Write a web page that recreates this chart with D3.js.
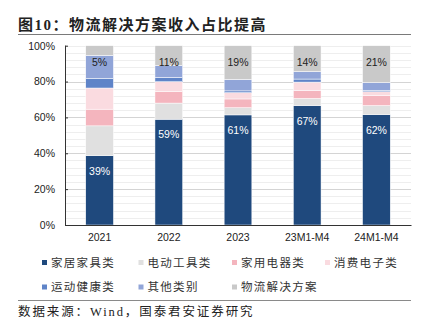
<!DOCTYPE html>
<html><head><meta charset="utf-8">
<script src="https://cdn.jsdelivr.net/npm/d3@7"></script>
<style>
html,body{margin:0;padding:0;background:#fff;}
svg{display:block;}
</style></head>
<body>
<svg id="c" width="426" height="329"></svg>
<script>
const categories = ["2021","2022","2023","23M1-M4","24M1-M4"];
const furniture   = [38.7, 59.0, 61.4, 66.6, 61.6];
const powerTools  = [16.6,  9.0,  4.0,  4.0,  5.0];
const appliances  = [ 9.3,  6.5,  4.9,  4.4,  5.5];
const electronics = [11.8,  5.4,  3.5,  4.7,  2.2];
const sports      = [ 5.3,  2.4,  1.0,  1.7,  0.7];
const others      = [12.9,  6.7,  6.4,  4.2,  4.5];
const logistics   = [ 5.4, 11.0, 18.8, 14.4, 20.5];
const seriesNames = ["家居家具类","电动工具类","家用电器类","消费电子类","运动健康类","其他类别","物流解决方案"];
const seriesValues = [furniture, powerTools, appliances, electronics, sports, others, logistics];
const seriesColors = ["#1f497d","#e0e0e0","#f4b5be","#fadbe0","#5f84c8","#91a5d8","#c9c9c9"];
const yTicks = [0,20,40,60,80,100];
const minorTicks = d3.range(0,101,4);

const svg = d3.select("#c");
const x = d3.scaleBand().domain(categories).range([65,411]).paddingInner(0.6).paddingOuter(0.3);
const y = d3.scaleLinear().domain([0,100]).range([225,45.7]);

// title
svg.append("text").attr("x",18).attr("y",30)
  .attr("font-family","'Liberation Serif','Noto Sans CJK SC',serif")
  .attr("font-weight","bold").attr("font-size",15).attr("letter-spacing",1.5)
  .attr("fill","#222").text("图10：物流解决方案收入占比提高");
svg.append("line").attr("x1",18).attr("x2",411).attr("y1",34.5).attr("y2",34.5)
  .attr("stroke","#7a7a7a").attr("stroke-width",1);

// grid
svg.append("g").selectAll("line").data(minorTicks).join("line")
  .attr("x1",65).attr("x2",411)
  .attr("y1",d=>Math.round(y(d))+0.5).attr("y2",d=>Math.round(y(d))+0.5)
  .attr("stroke",d=> (d%20===0 && d>0 && d<100) ? "#d4d4d4" : "#eeeeee").attr("stroke-width",1);

// stacked bars
const stackData = categories.map((c,i)=>{
  const o={cat:c}; seriesNames.forEach((n,k)=>o[n]=seriesValues[k][i]); return o;});
const stacked = d3.stack().keys(seriesNames)(stackData);
svg.append("g").selectAll("g").data(stacked).join("g")
  .attr("fill",(d,k)=>seriesColors[k])
  .selectAll("rect").data(d=>d).join("rect")
  .attr("x",d=>x(d.data.cat)).attr("width",x.bandwidth())
  .attr("y",d=>y(d[1])).attr("height",d=>y(d[0])-y(d[1]))
  .attr("stroke","#ffffff").attr("stroke-width",0.5);

// axes
const yAxis = d3.axisLeft(y).tickValues(yTicks).tickFormat(d=>d+"%").tickSize(-3).tickPadding(10);
const gy = svg.append("g").attr("transform","translate(65,0)").call(yAxis);
gy.select(".domain").attr("stroke","#333").attr("d","M0.5,"+y(100)+"V"+y(0));
gy.selectAll(".tick line").attr("stroke","#333");
gy.selectAll("text").attr("font-family","'Liberation Sans',Arial,sans-serif").attr("font-size",10.5).attr("fill","#222");

const xAxis = d3.axisBottom(x).tickSize(0).tickPadding(9);
const gx = svg.append("g").attr("transform","translate(0,225)").call(xAxis);
gx.select(".domain").attr("stroke","#333").attr("stroke-width",1.2);
gx.selectAll("text").attr("font-family","'Liberation Sans',Arial,sans-serif").attr("font-size",10.5).attr("fill","#222");

// data labels
svg.append("g").selectAll("text").data(categories).join("text")
  .attr("x",d=>x(d)+x.bandwidth()/2)
  .attr("y",(d,i)=>y(furniture[i])+19)
  .attr("text-anchor","middle").attr("font-family","'Liberation Sans',Arial,sans-serif")
  .attr("font-size",10.5).attr("fill","#ffffff")
  .text((d,i)=>Math.round(furniture[i])+"%");
svg.append("g").selectAll("text").data(categories).join("text")
  .attr("x",d=>x(d)+x.bandwidth()/2)
  .attr("y",d=>y(100)+20.5)
  .attr("text-anchor","middle").attr("font-family","'Liberation Sans',Arial,sans-serif")
  .attr("font-size",10.5).attr("fill","#222")
  .text((d,i)=>Math.round(logistics[i])+"%");

// legend
const colX = [42,138.5,232,325];
const rowY = [262.5,287];
const lg = svg.append("g").selectAll("g").data(seriesNames).join("g")
  .attr("transform",(d,i)=>`translate(${colX[i%4]},${rowY[Math.floor(i/4)]})`);
lg.append("rect").attr("x",0).attr("y",-2.5).attr("width",5).attr("height",5)
  .attr("fill",(d,i)=>seriesColors[i]);
lg.append("text").attr("x",9).attr("y",4.2)
  .attr("font-family","'Noto Sans CJK SC',sans-serif").attr("font-size",11.5)
  .attr("letter-spacing",1.3).attr("fill","#333").text(d=>d);

// footer
svg.append("line").attr("x1",18).attr("x2",411).attr("y1",300.5).attr("y2",300.5)
  .attr("stroke","#8a8a8a").attr("stroke-width",1);
svg.append("text").attr("x",18).attr("y",315.5)
  .attr("font-family","'Liberation Serif','Noto Sans CJK SC',serif")
  .attr("font-size",12.5).attr("letter-spacing",1.9).attr("fill","#222")
  .text("数据来源：Wind，国泰君安证券研究");
</script>
</body></html>
